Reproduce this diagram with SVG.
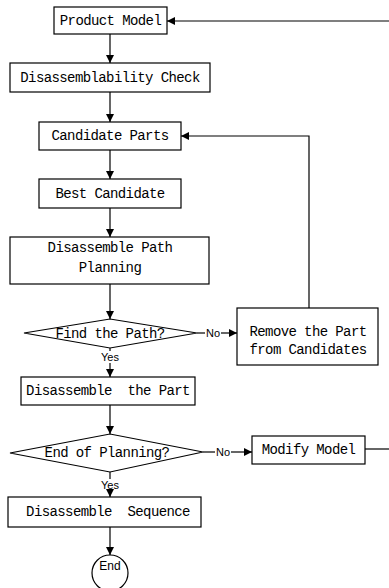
<svg xmlns="http://www.w3.org/2000/svg" width="389" height="588" viewBox="0 0 389 588">
<style>
.b{fill:#fff;stroke:#000;stroke-width:1.2}
.t{font-family:"Liberation Mono",monospace;font-size:14px;letter-spacing:-0.6px;fill:#000;text-anchor:middle;dominant-baseline:central}
.s{font-family:"Liberation Sans Narrow","Liberation Sans",sans-serif;font-size:11px;fill:#000;text-anchor:middle;dominant-baseline:central}
.c{fill:none;stroke:#000;stroke-width:1.2}
</style>
<defs>
<marker id="a" viewBox="0 0 10 10" refX="10" refY="5" markerWidth="8" markerHeight="8" markerUnits="userSpaceOnUse" orient="auto">
<path d="M0,0 L10,5 L0,10 z" fill="#000"/>
</marker>
</defs>
<rect width="389" height="588" fill="#fff"/>
<g id="connectors">
<path class="c" d="M389,21 H167" marker-end="url(#a)"/>
<path class="c" d="M110,34 V63" marker-end="url(#a)"/>
<path class="c" d="M110,92 V122" marker-end="url(#a)"/>
<path class="c" d="M110,150 V179" marker-end="url(#a)"/>
<path class="c" d="M110,208 V237" marker-end="url(#a)"/>
<path class="c" d="M110,284 V319" marker-end="url(#a)"/>
<path class="c" d="M197,333 H205"/>
<text class="s" x="213" y="333">No</text>
<path class="c" d="M221,333 H237" marker-end="url(#a)"/>
<path class="c" d="M309,308 V136 H181" marker-end="url(#a)"/>
<path class="c" d="M110,348 V351"/>
<text class="s" x="110" y="357">Yes</text>
<path class="c" d="M110,363 V377" marker-end="url(#a)"/>
<path class="c" d="M110,405 V434" marker-end="url(#a)"/>
<path class="c" d="M203,452 H215"/>
<text class="s" x="223" y="452">No</text>
<path class="c" d="M231,452 H252" marker-end="url(#a)"/>
<path class="c" d="M365,449 H389"/>
<path class="c" d="M110,472 V479"/>
<text class="s" x="110" y="485">Yes</text>
<path class="c" d="M110,491 V497" marker-end="url(#a)"/>
<path class="c" d="M110,527 V555" marker-end="url(#a)"/>
</g>
<g id="product-model"><rect class="b" x="54" y="7" width="113" height="27"/><text class="t" x="110.5" y="21">Product Model</text></g>
<g id="disassemblability-check"><rect class="b" x="10" y="63" width="200" height="29"/><text class="t" x="110" y="78">Disassemblability Check</text></g>
<g id="candidate-parts"><rect class="b" x="39" y="122" width="142" height="28"/><text class="t" x="110" y="136">Candidate Parts</text></g>
<g id="best-candidate"><rect class="b" x="39" y="179" width="142" height="29"/><text class="t" x="110" y="194">Best Candidate</text></g>
<g id="path-planning"><rect class="b" x="10" y="237" width="199" height="47"/><text class="t" x="110" y="248">Disassemble Path</text><text class="t" x="110" y="268">Planning</text></g>
<g id="find-path"><polygon class="b" points="24,333 110,319 197,333 110,348"/><text class="t" x="110" y="334">Find the Path?</text></g>
<g id="remove-part"><rect class="b" x="237" y="308" width="141" height="57"/><text class="t" x="308" y="332">Remove the Part</text><text class="t" x="308" y="350">from Candidates</text></g>
<g id="disassemble-part"><rect class="b" x="21" y="377" width="174" height="28"/><text class="t" x="108" y="391" style="white-space:pre">Disassemble  the Part</text></g>
<g id="end-of-planning"><polygon class="b" points="10,453 110,434 203,452 110,472"/><text class="t" x="107" y="453">End of Planning?</text></g>
<g id="modify-model"><rect class="b" x="252" y="436" width="113" height="28"/><text class="t" x="308.5" y="450">Modify Model</text></g>
<g id="disassemble-sequence"><rect class="b" x="8" y="497" width="193" height="30"/><text class="t" x="108" y="512" style="white-space:pre">Disassemble  Sequence</text></g>
<g id="end"><circle class="b" cx="110" cy="573" r="18"/><text class="s" x="110" y="566" style="font-size:12px">End</text></g>
</svg>
